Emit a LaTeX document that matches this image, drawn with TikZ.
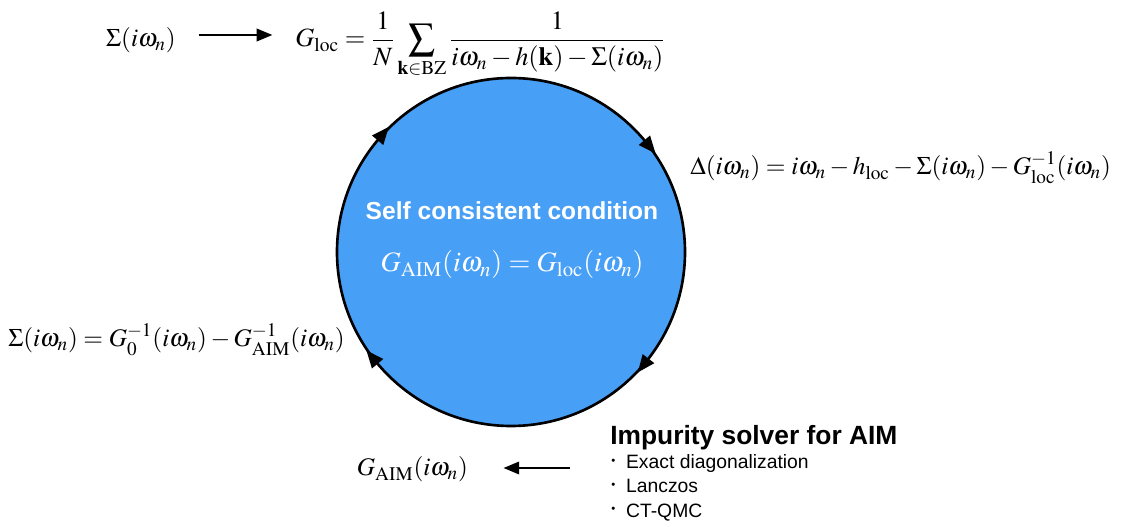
\documentclass[tikz,border=0pt]{standalone}
\usepackage{amsmath,amssymb}
\usepackage{mathptmx}
\usepackage[no-math]{fontspec}
\setsansfont{Liberation Sans}
\usepackage{tikz}
\usetikzlibrary{arrows.meta, positioning, decorations.markings}
\definecolor{loopblue}{HTML}{489FF6}
\newcommand{\solvedot}{\raisebox{0.22em}{\fontsize{6.5}{6.5}\selectfont\textbullet}\ \ }

\begin{document}
\begin{tikzpicture}[
  eq/.style={inner sep=0pt, font=\fontsize{14.4}{17}\selectfont},
  flow/.style={-{Triangle[length=9pt,width=7pt]}, line width=1.5pt},
  cyc/.style={line width=1.5pt, fill=loopblue, postaction={decorate},
    decoration={markings,
      mark=at position 0.111 with {\arrow{Triangle[reversed,length=10pt,width=8pt]}},
      mark=at position 0.389 with {\arrow{Triangle[reversed,length=10pt,width=8pt]}},
      mark=at position 0.611 with {\arrow{Triangle[reversed,length=10pt,width=8pt]}},
      mark=at position 0.895 with {\arrow{Triangle[reversed,length=10pt,width=8pt]}}}}]
  \useasboundingbox (0,0) rectangle (22.42,10.54);

  % Loop
  \draw[cyc] (10.22,5.5) circle (3.48);
  \node[font=\sffamily\bfseries\fontsize{14}{17}\selectfont, text=white, anchor=base] (scc) at (10.24,6.14) {Self consistent condition};
  \node[eq, font=\fontsize{16}{19}\selectfont, text=white, anchor=base] (cond) at (10.24,5.1) {$G_{\mathrm{AIM}}(i\omega_n) = G_{\mathrm{loc}}(i\omega_n)$};

  % Equations around the loop
  \node[eq, anchor=base] (sigtop) at (2.82,9.6) {$\Sigma(i\omega_n)$};
  \node[eq, font=\fontsize{15}{18}\selectfont, anchor=base west] (gloc) at (5.9,9.6) {$\displaystyle G_{\mathrm{loc}} = \frac{1}{N}\sum_{\mathbf{k}\in\mathrm{BZ}} \frac{1}{i\omega_n - h(\mathbf{k}) - \Sigma(i\omega_n)}$};
  \node[eq, anchor=base west] (hyb) at (13.8,7.04) {$\Delta(i\omega_n) = i\omega_n - h_{\mathrm{loc}} - \Sigma(i\omega_n) - G^{-1}_{\mathrm{loc}}(i\omega_n)$};
  \node[eq, anchor=base west] (dyson) at (0.16,3.6) {$\Sigma(i\omega_n) = G_0^{-1}(i\omega_n) - G^{-1}_{\mathrm{AIM}}(i\omega_n)$};
  \node[eq, anchor=base] (gaim) at (8.25,1.02) {$G_{\mathrm{AIM}}(i\omega_n)$};

  % Solver
  \node[font=\sffamily\bfseries\fontsize{15}{18}\selectfont, anchor=base west, inner sep=0pt] (solver) at (12.2,1.64) {Impurity solver for AIM};
  \node[font=\sffamily\fontsize{11}{13.7}\selectfont, anchor=north west, inner sep=0pt, align=left] (methods) at (12.22,1.45)
    {\solvedot Exact diagonalization\\ \solvedot Lanczos\\ \solvedot CT-QMC};
  \coordinate (solvein) at (11.4,1.18);

  % Arrows
  \draw[flow, shorten <=0.45cm, shorten >=0.45cm] (sigtop.east |- 0,9.84) -- (gloc.west |- 0,9.84);
  \draw[flow, shorten >=0.7cm] (solvein) -- (solvein -| gaim.east);
\end{tikzpicture}
\end{document}
